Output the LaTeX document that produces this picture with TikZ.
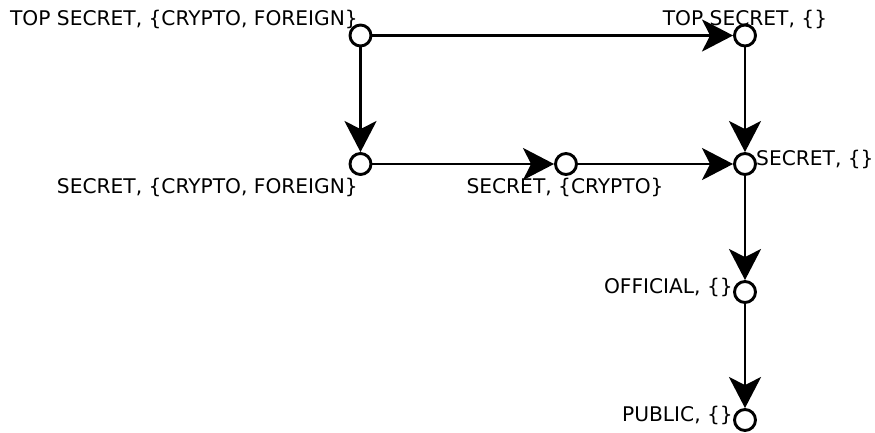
\documentclass[tikz,border=0pt]{standalone}
\usepackage{fontspec}
\setmainfont{DejaVu Sans}
\usetikzlibrary{arrows.meta}
\begin{document}
\begin{tikzpicture}[x=1pt,y=-1pt,
  lvl/.style={circle,draw,fill=white,line width=2.9pt,minimum size=21pt,inner sep=0pt},
  lbl/.style={font=\fontsize{20.2}{24}\selectfont,inner sep=0pt},
  flow/.style={line width=2.8pt,-{Stealth[length=31pt,width=32pt,inset=8pt]}}]
  \useasboundingbox (0,0) rectangle (875,432);
  % security levels
  \node[lvl] (tscf) at (360.5,35.5) {};
  \node[lvl] (ts)   at (745,35.5) {};
  \node[lvl] (scf)  at (360.5,164) {};
  \node[lvl] (sc)   at (566,164) {};
  \node[lvl] (s)    at (745,164) {};
  \node[lvl] (off)  at (745,292) {};
  \node[lvl] (pub)  at (745,420) {};
  % dominance relation
  \draw[flow] (tscf) -- (ts);
  \draw[flow] (tscf) -- (scf);
  \draw[flow] (scf) -- (sc);
  \draw[flow] (sc) -- (s);
  \draw[flow] (ts) -- (s);
  \draw[flow] (s) -- (off);
  \draw[flow] (off) -- (pub);
  % level names
  \node[lbl,anchor=base east] (ltscf) at (358,25) {TOP SECRET, \{CRYPTO, FOREIGN\}};
  \node[lbl,anchor=base] (lts) at (745,25) {TOP SECRET, \{\}};
  \node[lbl,anchor=base east] (lscf) at (358,193) {SECRET, \{CRYPTO, FOREIGN\}};
  \node[lbl,anchor=base] (lsc) at (565,193) {SECRET, \{CRYPTO\}};
  \node[lbl,anchor=base west] (ls) at (756,165) {SECRET, \{\}};
  \node[lbl,anchor=base east] (loff) at (733,293) {OFFICIAL, \{\}};
  \node[lbl,anchor=base east] (lpub) at (733,421) {PUBLIC, \{\}};
\end{tikzpicture}
\end{document}
